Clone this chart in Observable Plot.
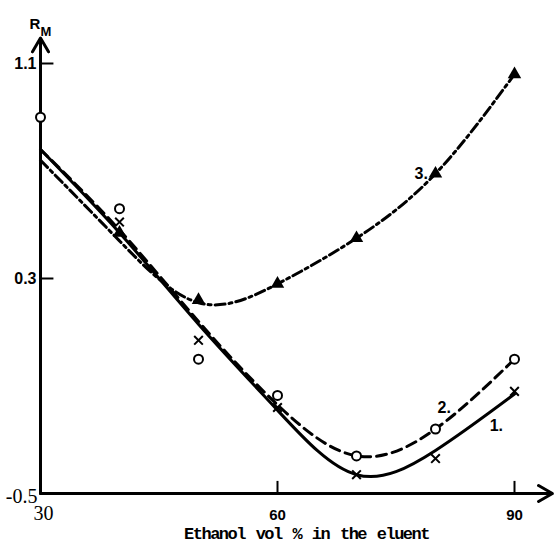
<!DOCTYPE html>
<html><head><meta charset="utf-8">
<script src="https://cdn.jsdelivr.net/npm/d3@7"></script>
<script src="https://cdn.jsdelivr.net/npm/@observablehq/plot@0.6"></script>
<style>body{margin:0;background:#fff}</style>
</head><body><div id="chart"></div>
<script>
// ethanol vol % in the eluent
const ethanol = [30, 40, 50, 60, 70, 80, 90];
// measured points (RM)
const crosses1 = [null, 0.51, 0.07, -0.18, -0.43, -0.37, -0.12];
const circles2 = [0.90, 0.56, 0.0, -0.135, -0.36, -0.26, 0.0];
const triangles3 = [null, 0.47, 0.22, 0.28, 0.45, 0.69, 1.06];
// drawn (fitted) curves
const curve1 = [0.78, 0.47, 0.13, -0.19, -0.43, -0.34, -0.13];
const curve2 = [0.78, 0.48, 0.14, -0.17, -0.36, -0.26, 0.0];
const curve3 = [0.74, 0.44, 0.21, 0.28, 0.45, 0.69, 1.06];
const yTicks = [1.1, 0.3];
const xTicks = [60, 90];
const curveLabels = [{x: 78.2, y: 0.69, t: "3."}, {x: 81.1, y: -0.18, t: "2."}, {x: 87.7, y: -0.25, t: "1."}];

const pts = (ys) => ethanol.map((x, i) => ({x, y: ys[i]})).filter(d => d.y !== null);

const sans = "'Liberation Sans', Arial, sans-serif";
const serif = "'Liberation Serif', 'Times New Roman', serif";
const mono = "'Liberation Mono', 'Courier New', monospace";

const chart = Plot.plot({
  width: 554, height: 545,
  marginLeft: 40, marginRight: 40, marginTop: 63, marginBottom: 52,
  x: {domain: [30, 90], axis: null},
  y: {domain: [-0.5, 1.1], axis: null},
  style: {background: "#fff"},
  marks: [
    // axes
    Plot.arrow([{}], {x1: 30, y1: -0.5, x2: 94.8, y2: -0.5, stroke: "#000", strokeWidth: 3, headLength: 8}),
    Plot.arrow([{}], {x1: 30, y1: -0.5, x2: 30, y2: 1.195, stroke: "#000", strokeWidth: 3, headLength: 8}),
    Plot.ruleY(yTicks, {x1: 30, x2: 31.7, stroke: "#000", strokeWidth: 2}),
    Plot.ruleX(xTicks, {y1: -0.5, y2: -0.455, stroke: "#000", strokeWidth: 2}),
    // tick labels
    Plot.text(yTicks, {x: 30, y: d => d, text: d => String(d), dx: -4, textAnchor: "end", fontFamily: sans, fontWeight: "bold", fontSize: 16, fill: "#000"}),
    Plot.text(["-0.5"], {x: 30, y: -0.5, dx: -3, dy: 3, textAnchor: "end", fontFamily: serif, fontSize: 20, fill: "#000"}),
    Plot.text(["30"], {x: 30, y: -0.5, dx: 3, dy: 20, textAnchor: "middle", fontFamily: serif, fontSize: 20, fill: "#000"}),
    Plot.text(xTicks, {x: d => d, y: -0.5, dy: 22, text: d => String(d), textAnchor: "middle", fontFamily: sans, fontWeight: "bold", fontSize: 15, fill: "#000"}),
    Plot.text(["Ethanol vol % in the eluent"], {frameAnchor: "bottom", dx: 29, dy: 45, fontFamily: mono, fontWeight: "bold", fontSize: 17, fill: "#000"}),
    Plot.text(["R"], {frameAnchor: "top-left", dx: -11, dy: -45, textAnchor: "start", fontFamily: sans, fontWeight: "bold", fontSize: 15, fill: "#000"}),
    Plot.text(["M"], {frameAnchor: "top-left", dx: 0, dy: -37, textAnchor: "start", fontFamily: sans, fontWeight: "bold", fontSize: 13, fill: "#000"}),
    // curves
    Plot.line(pts(curve1), {x: "x", y: "y", curve: "natural", stroke: "#000", strokeWidth: 3}),
    Plot.line(pts(curve2), {x: "x", y: "y", curve: "natural", stroke: "#000", strokeWidth: 3, strokeDasharray: "10,6"}),
    Plot.line(pts(curve3), {x: "x", y: "y", curve: "natural", stroke: "#000", strokeWidth: 3, strokeDasharray: "10,4,3,4"}),
    // points
    Plot.dot(pts(circles2), {x: "x", y: "y", r: 4.5, stroke: "#000", strokeWidth: 2, fill: "#fff"}),
    Plot.dot(pts(crosses1), {x: "x", y: "y", symbol: "times", r: 4, stroke: "#000", strokeWidth: 2}),
    Plot.dot(pts(triangles3), {x: "x", y: "y", symbol: "triangle", r: 5, fill: "#000", stroke: "none"}),
    // curve labels
    Plot.text(curveLabels, {x: "x", y: "y", text: "t", textAnchor: "middle", fontFamily: sans, fontWeight: "bold", fontSize: 16, fill: "#000"})
  ]
});
d3.select(chart).selectAll("text")
  .filter(function() { return this.textContent.startsWith("Ethanol"); })
  .style("letter-spacing", "-1.5px").style("word-spacing", "2px");
document.getElementById("chart").appendChild(chart);
</script>
</body></html>
